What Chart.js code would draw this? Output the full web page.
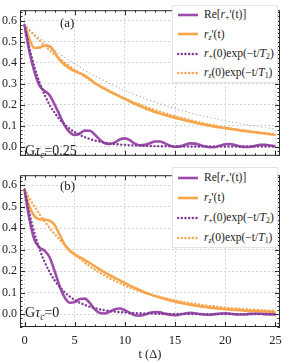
<!DOCTYPE html>
<html><head><meta charset="utf-8">
<script src="https://cdn.jsdelivr.net/npm/chart.js@4.4.1/dist/chart.umd.min.js"></script>
<style>
html,body{margin:0;padding:0;background:#fff;}
#wrap{position:relative;width:289px;height:363px;overflow:hidden;font-family:"Liberation Serif","Times New Roman",serif;color:#222;}
canvas{position:absolute;left:0;}
.lg{position:absolute;left:172px;width:106px;background:#fff;border:1px solid #e4e4e4;box-sizing:border-box;}
.row{position:absolute;left:0;display:flex;align-items:center;font-size:11.5px;white-space:nowrap;line-height:1;}
.row svg{margin-left:4px;margin-right:5px;flex:none;}
sub{font-size:0.68em;vertical-align:-0.3em;line-height:0;}
.lab{position:absolute;font-size:13px;white-space:nowrap;line-height:1;}
.gt{font-size:14px;}
</style></head><body>
<div id="wrap">
<canvas id="ca" width="289" height="166" style="top:0"></canvas>
<canvas id="cb" width="289" height="198" style="top:165px"></canvas>
<div class="lab" style="left:60px;top:15.5px">(a)</div>
<div class="lab" style="left:60px;top:178.5px">(b)</div>
<div class="lab gt" style="left:25px;top:144px">G<i>τ</i><sub><i>c</i></sub>=0.25</div>
<div class="lab gt" style="left:25px;top:306px">G<i>τ</i><sub><i>c</i></sub>=0</div>
</div>
<script>
// ---- data ----
const tValues = [0,0.5,1,1.5,2,2.5,3,3.5,4,4.5,5,5.5,6,6.5,7,7.5,8,8.5,9,9.5,10,10.5,11,11.5,12,12.5,13,13.5,14,14.5,15,15.5,16,16.5,17,17.5,18,18.5,19,19.5,20,20.5,21,21.5,22,22.5,23,23.5,24,24.5,25];

// panel (a): G tau_c = 0.25
const rePlusA = [0.58,0.45,0.355,0.29,0.265,0.245,0.20,0.15,0.10,0.068,0.055,0.062,0.076,0.075,0.057,0.033,0.016,0.012,0.02,0.034,0.039,0.03,0.014,0.006,0.008,0.016,0.024,0.024,0.015,0.004,-0.001,0.001,0.009,0.015,0.014,0.007,0.0,-0.003,-0.002,0.005,0.011,0.012,0.007,0.001,-0.002,-0.001,0.004,0.009,0.009,0.005,0.001];
const rzA = [0.58,0.51,0.47,0.472,0.482,0.478,0.45,0.413,0.39,0.373,0.36,0.35,0.338,0.322,0.303,0.288,0.275,0.262,0.25,0.238,0.227,0.215,0.204,0.193,0.183,0.174,0.165,0.157,0.15,0.143,0.137,0.131,0.125,0.119,0.114,0.109,0.104,0.099,0.095,0.091,0.088,0.084,0.081,0.077,0.074,0.071,0.068,0.065,0.062,0.059,0.056];
const expT2A = [0.58,0.468,0.378,0.306,0.247,0.199,0.161,0.13,0.105,0.085,0.069,0.055,0.045,0.036,0.029,0.024,0.019,0.015,0.012,0.01,0.008,0.0065,0.0053,0.0043,0.0034,0.0028,0.0022,0.0018,0.0015,0.0012,0.001,0.0008,0.0006,0.0005,0.0004,0.0003,0.0003,0.0002,0.0002,0.0001,0.0001,0.0001,0.0001,0,0,0,0,0,0,0,0];
const expT1A = [0.58,0.554,0.529,0.505,0.482,0.46,0.439,0.419,0.401,0.382,0.365,0.349,0.333,0.318,0.303,0.29,0.277,0.264,0.252,0.241,0.23,0.219,0.209,0.2,0.191,0.182,0.174,0.166,0.159,0.151,0.145,0.138,0.132,0.126,0.12,0.115,0.109,0.104,0.1,0.095,0.091,0.087,0.083,0.079,0.076,0.072,0.069,0.066,0.063,0.06,0.057];
const grayRefA = [0.58,0.558,0.537,0.517,0.497,0.478,0.46,0.442,0.425,0.409,0.394,0.379,0.364,0.35,0.337,0.324,0.312,0.3,0.289,0.278,0.267,0.257,0.247,0.238,0.229,0.22,0.212,0.204,0.196,0.188,0.181,0.174,0.168,0.161,0.155,0.149,0.144,0.138,0.133,0.128,0.123,0.118,0.114,0.11,0.105,0.101,0.098,0.094,0.09,0.087,0.084];

// panel (b): G tau_c = 0
const rePlusB = [0.58,0.44,0.345,0.31,0.295,0.265,0.20,0.13,0.078,0.053,0.056,0.07,0.072,0.052,0.022,0.005,0.003,0.012,0.023,0.026,0.018,0.005,-0.005,-0.007,-0.002,0.006,0.01,0.008,0.002,-0.003,-0.005,-0.002,0.003,0.006,0.004,0.0,-0.003,-0.003,0.0,0.003,0.004,0.002,-0.001,-0.002,-0.001,0.001,0.002,0.002,0.0,-0.001,-0.001];
const rzB = [0.58,0.50,0.455,0.442,0.44,0.435,0.415,0.37,0.325,0.295,0.278,0.265,0.252,0.238,0.223,0.208,0.194,0.181,0.169,0.157,0.145,0.133,0.122,0.111,0.101,0.092,0.084,0.077,0.07,0.064,0.058,0.053,0.048,0.044,0.04,0.036,0.033,0.03,0.027,0.025,0.023,0.021,0.019,0.018,0.016,0.015,0.014,0.013,0.012,0.011,0.01];
const expT2B = [0.58,0.467,0.375,0.302,0.243,0.196,0.157,0.127,0.102,0.082,0.066,0.053,0.043,0.034,0.028,0.022,0.018,0.014,0.012,0.009,0.008,0.006,0.005,0.004,0.003,0.003,0.002,0.002,0.001,0.001,0.001,0.001,0.001,0,0,0,0,0,0,0,0,0,0,0,0,0,0,0,0,0,0];
const expT1B = [0.58,0.539,0.501,0.465,0.432,0.402,0.373,0.347,0.322,0.299,0.278,0.259,0.24,0.223,0.207,0.193,0.179,0.166,0.155,0.144,0.133,0.124,0.115,0.107,0.099,0.092,0.086,0.08,0.074,0.069,0.064,0.059,0.055,0.051,0.048,0.044,0.041,0.038,0.036,0.033,0.031,0.028,0.026,0.025,0.023,0.021,0.02,0.018,0.017,0.016,0.015];

const xTicks = [0,5,10,15,20,25];
const yTicks = [0,0.1,0.2,0.3,0.4,0.5,0.6];
const legendLabels = [
  'Re[<i>r</i><sub>+</sub>\'(t)]',
  '<i>r</i><sub><i>z</i></sub>\'(t)',
  '<i>r</i><sub>+</sub>(0)exp(\u2212t/<i>T</i><sub>2</sub>)',
  '<i>r</i><sub><i>z</i></sub>(0)exp(\u2212t/<i>T</i><sub>1</sub>)'
];
const xTitle = 't (\u0394)';

// ---- styling ----
const PURPLE = '#9c4daa', ORANGE = '#f8a64b', PURPLE_D = '#7d3c98', ORANGE_D = '#f6a650', GRAY = '#9a9a9a';
const SERIF = '"Liberation Serif","Times New Roman",serif';

function pts(arr){ return tValues.map((t,i)=>({x:t,y:arr[i]})); }
function solid(label,arr,color,order){ return {label,data:pts(arr),borderColor:color,borderWidth:2.6,pointRadius:0,cubicInterpolationMode:'monotone',fill:false,order}; }
function dotted(label,arr,color,order,w){ return {label,data:pts(arr),borderColor:color,borderWidth:w||2.4,borderDash:[0.1,3.6],borderCapStyle:'round',pointRadius:0,cubicInterpolationMode:'monotone',fill:false,order}; }

const framePlugin = {
  id:'frame',
  afterDatasetsDraw(chart){
    const {ctx, chartArea:a, scales:{x,y}} = chart;
    ctx.save();
    ctx.strokeStyle='#2a2a2a'; ctx.lineWidth=1;
    ctx.strokeRect(a.left+0.5, a.top+0.5, a.right-a.left-1, a.bottom-a.top-1);
    ctx.beginPath();
    for(let k=0;k<=25;k++){
      const px=Math.round(x.getPixelForValue(k))+0.5, L=(k%5===0)?5:2.5;
      ctx.moveTo(px,a.bottom); ctx.lineTo(px,a.bottom-L);
      ctx.moveTo(px,a.top); ctx.lineTo(px,a.top+L);
    }
    for(let k=-3;k<=33;k++){
      const v=k*0.02; if(v<y.min||v>y.max) continue;
      const py=Math.round(y.getPixelForValue(v))+0.5, L=(k%5===0)?5:2.5;
      ctx.moveTo(a.left,py); ctx.lineTo(a.left+L,py);
      ctx.moveTo(a.right,py); ctx.lineTo(a.right-L,py);
    }
    ctx.stroke();
    ctx.restore();
  }
};

function makeChart(id, datasets, ymin, ymax, showX, padTop, padBottom){
  return new Chart(document.getElementById(id), {
    type:'line',
    data:{datasets},
    options:{
      responsive:false, animation:false, devicePixelRatio:1,
      layout:{padding:{top:padTop,right:9,bottom:padBottom,left:0}},
      plugins:{legend:{display:false},tooltip:{enabled:false}},
      scales:{
        x:{type:'linear',min:-0.45,max:25.45,
          afterBuildTicks:s=>{s.ticks=xTicks.map(v=>({value:v}));},
          afterFit:s=>{s.height=showX?36:0;},
          grid:{color:'#d4d4d4',lineWidth:1,drawTicks:false},
          border:{display:false,dash:[2,2]},
          ticks:{display:showX,padding:6,color:'#222',font:{family:SERIF,size:12.5},maxRotation:0},
          title:{display:showX,text:xTitle,color:'#222',font:{family:SERIF,size:12.5},padding:{top:0,bottom:1}}
        },
        y:{type:'linear',min:ymin,max:ymax,
          afterBuildTicks:s=>{s.ticks=yTicks.map(v=>({value:v}));},
          afterFit:s=>{s.width=20;},
          grid:{color:'#d4d4d4',lineWidth:1,drawTicks:false},
          border:{display:false,dash:[2,2]},
          ticks:{padding:3,color:'#222',font:{family:SERIF,size:12},callback:v=>Number(v).toFixed(1)}
        }
      }
    },
    plugins:[framePlugin]
  });
}

const chartA = makeChart('ca', [
  solid('rePlus',rePlusA,PURPLE,3),
  solid('rz',rzA,ORANGE,4),
  dotted('expT2',expT2A,PURPLE_D,1),
  dotted('expT1',expT1A,ORANGE_D,2),
  dotted('ref',grayRefA,GRAY,0,1.1)
], -0.044, 0.65, false, 1, 3);

const chartB = makeChart('cb', [
  solid('rePlus',rePlusB,PURPLE,3),
  solid('rz',rzB,ORANGE,4),
  dotted('expT2',expT2B,PURPLE_D,1),
  dotted('expT1',expT1B,ORANGE_D,2)
], -0.060, 0.647, true, 1, 0);

function makeLegend(chart, top, rowH){
  const wrap=document.getElementById('wrap');
  const box=document.createElement('div');
  box.className='lg'; box.style.top=top+'px'; box.style.height=(rowH*4+1)+'px';
  for(let i=0;i<4;i++){
    const ds=chart.data.datasets[i];
    const dash = ds.borderDash ? ' stroke-dasharray="0.1 3.6" stroke-linecap="round"' : '';
    const row=document.createElement('div');
    row.className='row'; row.style.top=(i*rowH)+'px'; row.style.height=rowH+'px';
    row.innerHTML='<svg width="22" height="6"><line x1="1" y1="3" x2="21" y2="3" stroke="'+ds.borderColor+'" stroke-width="'+ds.borderWidth+'"'+dash+'/></svg><span>'+legendLabels[i]+'</span>';
    box.appendChild(row);
  }
  wrap.appendChild(box);
}
makeLegend(chartA, 4.5, 19.3);
makeLegend(chartB, 167, 20);
</script>
</body></html>
